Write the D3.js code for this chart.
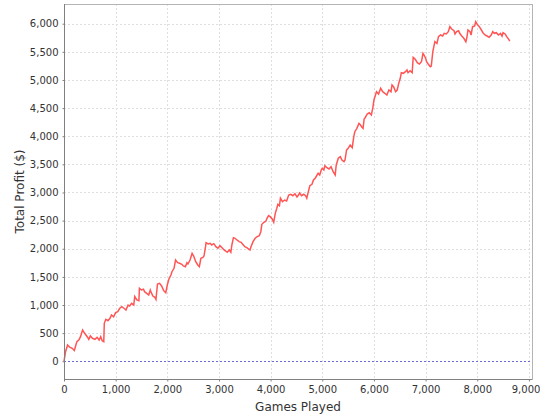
<!DOCTYPE html>
<html>
<head>
<meta charset="utf-8">
<script src="https://cdn.jsdelivr.net/npm/d3@7"></script>
<style>
    body { margin: 0; background: #fff; }
    text { font-family: "DejaVu Sans", sans-serif; }
</style>
</head>
<body>
<div id="chart"></div>
<script>
// games played (x) and running profit in $ (y)
const games = [
    0, 30, 70, 110, 160, 200, 230, 250, 290, 320, 360, 400, 450, 480, 510, 550, 600, 640, 680, 710,
    740, 770, 780, 810, 850, 890, 920, 960, 1000, 1040, 1080, 1120, 1160, 1200, 1240, 1270, 1310, 1350,
    1370, 1410, 1450, 1460, 1500, 1540, 1560, 1600, 1640, 1670, 1690, 1720, 1760, 1780, 1810, 1850,
    1890, 1930, 1970, 2000, 2030, 2070, 2090, 2130, 2160, 2200, 2240, 2280, 2310, 2350, 2380, 2400,
    2440, 2480, 2510, 2550, 2590, 2620, 2650, 2690, 2710, 2740, 2750, 2790, 2830, 2860, 2900, 2940,
    2980, 3020, 3060, 3100, 3130, 3160, 3200, 3230, 3250, 3280, 3310, 3350, 3390, 3430, 3460, 3500,
    3540, 3570, 3600, 3620, 3660, 3700, 3740, 3780, 3810, 3830, 3870, 3910, 3930, 3960, 3990, 4030,
    4060, 4090, 4120, 4140, 4170, 4190, 4230, 4270, 4310, 4350, 4390, 4430, 4470, 4510, 4540, 4560,
    4600, 4640, 4680, 4700, 4730, 4760, 4800, 4830, 4870, 4900, 4920, 4950, 4980, 5000, 5030, 5050,
    5090, 5130, 5170, 5210, 5250, 5270, 5310, 5350, 5380, 5420, 5440, 5470, 5500, 5540, 5580, 5610,
    5630, 5670, 5710, 5740, 5760, 5790, 5810, 5830, 5870, 5910, 5950, 5980, 6000, 6030, 6050, 6090,
    6130, 6170, 6210, 6250, 6290, 6330, 6350, 6380, 6420, 6450, 6480, 6510, 6530, 6570, 6610, 6640,
    6660, 6700, 6740, 6760, 6800, 6840, 6880, 6920, 6950, 6970, 7000, 7020, 7050, 7090, 7110, 7140,
    7160, 7180, 7220, 7250, 7290, 7330, 7360, 7400, 7440, 7470, 7510, 7550, 7570, 7600, 7640, 7660,
    7700, 7740, 7780, 7800, 7820, 7860, 7880, 7910, 7950, 7970, 8010, 8040, 8080, 8110, 8150, 8190,
    8230, 8270, 8300, 8330, 8370, 8410, 8450, 8480, 8500, 8540, 8570, 8610, 8630
];
const profit = [
    0, 170, 290, 250, 230, 190, 290, 350, 380, 437, 556, 497, 437, 390, 450, 408, 390, 426, 378, 437,
    366, 348, 675, 746, 721, 764, 823, 792, 864, 881, 942, 970, 942, 912, 1000, 982, 1030, 1000,
    1150, 1090, 1077, 1297, 1267, 1280, 1237, 1208, 1178, 1267, 1219, 1160, 1137, 1101, 1374, 1386,
    1338, 1255, 1219, 1356, 1457, 1534, 1592, 1653, 1800, 1752, 1741, 1724, 1694, 1681, 1752, 1729,
    1800, 1919, 1871, 1770, 1711, 1681, 1830, 1848, 1871, 2037, 2108, 2085, 2097, 2067, 2090, 2037,
    2008, 2055, 2019, 1978, 1960, 1937, 1978, 1937, 2067, 2197, 2186, 2156, 2126, 2115, 2079, 2037,
    2019, 1996, 1978, 2037, 2126, 2186, 2215, 2232, 2303, 2435, 2470, 2493, 2541, 2588, 2570, 2529,
    2470, 2630, 2719, 2790, 2765, 2897, 2836, 2866, 2849, 2955, 2968, 2943, 2979, 2920, 2955, 2991,
    2943, 2968, 2938, 2897, 3014, 3121, 3146, 3222, 3263, 3311, 3341, 3311, 3400, 3430, 3400, 3476,
    3441, 3418, 3458, 3370, 3311, 3489, 3608, 3636, 3577, 3547, 3577, 3755, 3785, 3844, 3796, 3992,
    4080, 4141, 4230, 4200, 4169, 4141, 4306, 4329, 4395, 4418, 4377, 4514, 4644, 4733, 4791, 4750,
    4851, 4791, 4763, 4733, 4821, 4791, 4910, 4880, 4791, 4821, 4940, 5029, 5129, 5118, 5147, 5177,
    5129, 5164, 5129, 5402, 5367, 5307, 5283, 5324, 5473, 5443, 5385, 5324, 5283, 5235, 5248, 5502,
    5591, 5680, 5651, 5769, 5799, 5781, 5829, 5817, 5858, 5947, 5900, 5875, 5817, 5858, 5875, 5829,
    5781, 5740, 5680, 5758, 5888, 5858, 5799, 5947, 5959, 6035, 5976, 5947, 5888, 5840, 5799, 5781,
    5758, 5799, 5858, 5829, 5840, 5799, 5829, 5781, 5840, 5817, 5769, 5722, 5692
];
const xTicks = [0, 1000, 2000, 3000, 4000, 5000, 6000, 7000, 8000, 9000];
const yTicks = [0, 500, 1000, 1500, 2000, 2500, 3000, 3500, 4000, 4500, 5000, 5500, 6000];
const xTitle = 'Games Played';
const yTitle = 'Total Profit ($)';

const width = 540, height = 420;
const plotLeft = 64, plotRight = 532, plotTop = 4, plotBottom = 379;

const svg = d3.select('#chart')
    .append('svg')
    .attr('width', width)
    .attr('height', height);

const x = d3.scaleLinear().domain([0, 9060]).range([plotLeft, plotRight]);
const y = d3.scaleLinear().domain([-315, 6350]).range([plotBottom, plotTop]);

// gridlines
svg.append('g')
    .selectAll('line')
    .data(xTicks)
    .enter().append('line')
    .attr('x1', d => Math.round(x(d)) + 0.5).attr('x2', d => Math.round(x(d)) + 0.5)
    .attr('y1', plotTop).attr('y2', plotBottom)
    .attr('stroke', '#dedede')
    .attr('stroke-dasharray', '2,2');

svg.append('g')
    .selectAll('line')
    .data(yTicks)
    .enter().append('line')
    .attr('x1', plotLeft).attr('x2', plotRight)
    .attr('y1', d => Math.round(y(d)) + 0.5).attr('y2', d => Math.round(y(d)) + 0.5)
    .attr('stroke', '#dedede')
    .attr('stroke-dasharray', '2,2');

// zero line
svg.append('line')
    .attr('x1', plotLeft).attr('x2', plotRight)
    .attr('y1', Math.round(y(0)) + 0.5).attr('y2', Math.round(y(0)) + 0.5)
    .attr('stroke', '#6b6bd8')
    .attr('stroke-dasharray', '2,2');

// plot outline
svg.append('rect')
    .attr('x', plotLeft + 0.5).attr('y', plotTop + 0.5)
    .attr('width', plotRight - plotLeft).attr('height', plotBottom - plotTop)
    .attr('fill', 'none')
    .attr('stroke', '#b4b4b4');

// the series
const points = games.map((g, i) => [g, profit[i]]);
const line = d3.line()
    .x(d => x(d[0]))
    .y(d => y(d[1]));

svg.append('path')
    .datum(points)
    .attr('d', line)
    .attr('fill', 'none')
    .attr('stroke', '#ff5555')
    .attr('stroke-width', 1.5);

// axes
const xAxis = svg.append('g')
    .attr('transform', `translate(0,${plotBottom + 0.5})`)
    .call(d3.axisBottom(x).tickValues(xTicks).tickFormat(d3.format(',')).tickSizeOuter(0).tickSizeInner(2).tickPadding(4));

const yAxis = svg.append('g')
    .attr('transform', `translate(${plotLeft + 0.5},0)`)
    .call(d3.axisLeft(y).tickValues(yTicks).tickFormat(d3.format(',')).tickSizeOuter(0).tickSizeInner(2).tickPadding(4));

[xAxis, yAxis].forEach(a => {
    a.select('.domain').attr('stroke', '#808080');
    a.selectAll('.tick line').attr('stroke', '#808080');
    a.selectAll('.tick text')
        .attr('fill', '#333')
        .style('font-size', '10px')
        .style('font-family', '"DejaVu Sans", sans-serif');
});
xAxis.select('.domain').attr('d', `M${plotLeft},0H${plotRight}`);
yAxis.select('.domain').attr('d', `M0,${plotTop}V${plotBottom}`);

// the last x label sits against the right edge, as in the picture
xAxis.selectAll('.tick text').filter(d => d === 9000).attr('text-anchor', 'end').attr('x', 11);

// titles
svg.append('text')
    .attr('x', (plotLeft + plotRight) / 2)
    .attr('y', 411)
    .attr('text-anchor', 'middle')
    .attr('fill', '#333')
    .style('font-size', '12px')
    .text(xTitle);

svg.append('text')
    .attr('transform', `translate(24,${(plotTop + plotBottom) / 2}) rotate(-90)`)
    .attr('text-anchor', 'middle')
    .attr('fill', '#333')
    .style('font-size', '12px')
    .text(yTitle);
</script>
</body>
</html>
